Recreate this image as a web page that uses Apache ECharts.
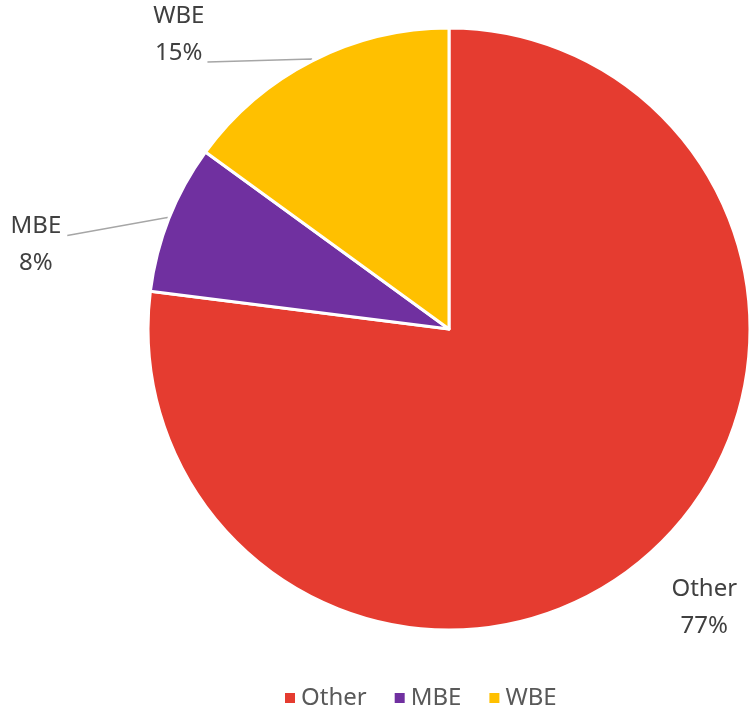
<!DOCTYPE html>
<html>
<head>
<meta charset="utf-8">
<script src="https://cdn.jsdelivr.net/npm/echarts@6/dist/echarts.min.js"></script>
<style>
  html, body { margin: 0; padding: 0; background: #fff; }
  #chart { width: 749px; height: 709px; }
</style>
</head>
<body>
<div id="chart"></div>
<script>
// Share of spend by business type (percent)
const categories = ['Other', 'MBE', 'WBE'];
const shares = [77, 8, 15];
const colors = ['#E53C30', '#7030A0', '#FFC000'];

// Per-slice nudges of the label text relative to where the pie layout puts it
const labelShift = {
  Other: [-4, 23],
  MBE: [-3, 27],
  WBE: [0, -24]
};
// Vertical drop of each leader line's outer end (gives the lines a slight slant)
const lineEndDrop = { Other: 0, MBE: 18, WBE: 3 };

const chart = echarts.init(document.getElementById('chart'));

const pieData = categories.map((name, i) => {
  const item = {
    name: name,
    value: shares[i],
    itemStyle: { color: colors[i] }
  };
  if (name === 'Other') {
    item.labelLine = { show: false, length: 40, length2: 0 };
  }
  if (name === 'WBE') {
    item.labelLine = { length: 2, length2: 104 };
  }
  if (name === 'MBE') {
    item.labelLine = { length: 2, length2: 100 };
  }
  return item;
});

chart.setOption({
  animation: false,
  textStyle: { fontFamily: 'Noto Sans' },
  legend: {
    data: categories,
    top: 681,
    left: 278,
    icon: 'rect',
    itemWidth: 12,
    itemHeight: 12,
    itemGap: 26,
    textStyle: { fontSize: 24, color: '#595959', fontFamily: 'Noto Sans' }
  },
  series: [{
    type: 'pie',
    center: [449, 329],
    radius: 301,
    startAngle: 90,
    clockwise: true,
    data: pieData,
    itemStyle: { borderColor: '#ffffff', borderWidth: 3 },
    label: {
      show: true,
      position: 'outside',
      formatter: '{t|{b}}\n{t|{c}%}',
      color: '#404040',
      fontFamily: 'Noto Sans',
      overflow: 'none',
      distanceToLabelLine: 3,
      rich: {
        t: {
          fontSize: 24,
          lineHeight: 37,
          color: '#404040',
          fontFamily: 'Noto Sans',
          align: 'center'
        }
      }
    },
    labelLine: {
      show: true,
      length: 2,
      length2: 95,
      lineStyle: { color: '#A6A6A6', width: 1.5 }
    },
    labelLayout: function (params) {
      const name = categories[params.dataIndex];
      const s = labelShift[name];
      const out = { dx: s[0], dy: s[1] };
      const pts = params.labelLinePoints;
      if (pts && pts.length) {
        const last = pts.length - 1;
        out.labelLinePoints = pts.map((p, k) =>
          k === last ? [p[0], p[1] + lineEndDrop[name]] : [p[0], p[1]]
        );
      }
      return out;
    },
    emphasis: { disabled: true }
  }]
});
</script>
</body>
</html>
